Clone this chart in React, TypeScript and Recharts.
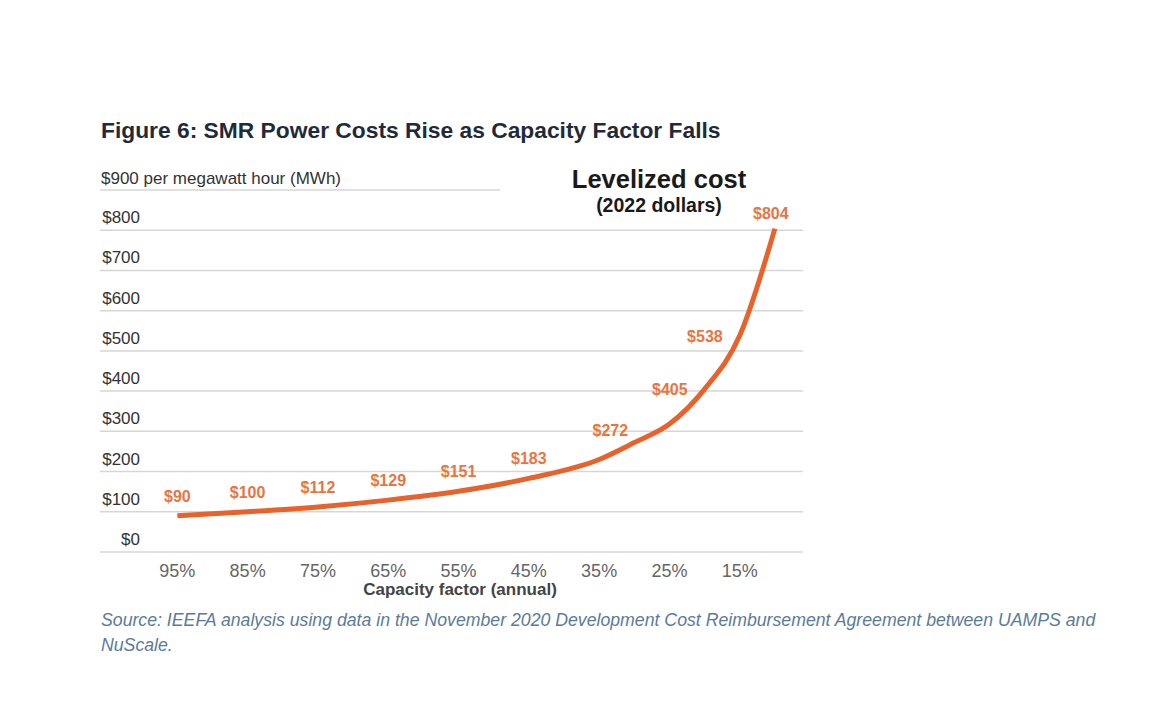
import { CartesianGrid, LabelList, Line, LineChart, XAxis, YAxis } from 'recharts'

// capacity factor (%) -> levelized cost ($/MWh, 2022 dollars)
const capacityFactor = [95, 85, 75, 65, 55, 45, 35, 30, 25, 20, 15, 10]
const levelizedCost = [90, 100, 112, 129, 151, 183, 230, 272, 318, 405, 538, 804]
const showLabel = [true, true, true, true, true, true, false, true, false, true, true, true]

const xTicks = [95, 85, 75, 65, 55, 45, 35, 25, 15]
const yTicks = [0, 100, 200, 300, 400, 500, 600, 700, 800, 900]
const gridValues = [0, 100, 200, 300, 400, 500, 600, 700, 800]

const data = capacityFactor.map((cf, i) => ({ cf, cost: levelizedCost[i], show: showLabel[i] }))

const PLOT_LEFT = 100
const PLOT_RIGHT = 803
const PLOT_TOP = 190
const PLOT_BOTTOM = 552
const W = 1170
const H = 724
const Y_AXIS_W = 40

const LINE_COLOR = '#e8622c'
const LABEL_COLOR = '#ea7440'
const FONT = '"Liberation Sans", Arial, sans-serif'

function YTick(props: any) {
  const { y, payload } = props
  if (payload.value === 900) {
    // top line only runs under the unit caption
    return (
      <g>
        <line x1={PLOT_LEFT} x2={500} y1={y} y2={y} stroke="#d6d6d6" strokeWidth={1.5} />
        <text x={PLOT_LEFT + 1} y={y - 6} fontSize={17} fill="#333" fontFamily={FONT}>
          $900 per megawatt hour (MWh)
        </text>
      </g>
    )
  }
  return (
    <text x={PLOT_LEFT + 40} y={y - 7} textAnchor="end" fontSize={17} fill="#333" fontFamily={FONT}>
      ${payload.value}
    </text>
  )
}

function XTick(props: any) {
  const { x, payload } = props
  return (
    <text x={x} y={PLOT_BOTTOM + 25} textAnchor="middle" fontSize={18} fill="#666" fontFamily={FONT}>
      {payload.value}%
    </text>
  )
}

function PointLabel(props: any) {
  const { x, y, value, index } = props
  if (!data[index].show) return null
  let lx = x
  let ly = y - 14
  let anchor: 'middle' | 'end' = 'middle'
  if (value >= 800) {
    lx = x - 4
    ly = y - 10
  } else if (value >= 300) {
    lx = x - 17
    ly = y + 6
    anchor = 'end'
  } else if (value >= 250) {
    lx = x - 24
    ly = y - 7
  }
  return (
    <text x={lx} y={ly} textAnchor={anchor} fontSize={16} fontWeight="bold" fill={LABEL_COLOR} fontFamily={FONT}>
      ${value}
    </text>
  )
}

export default function App() {
  return (
    <div style={{ position: 'relative', width: W, height: H, background: '#fff', fontFamily: FONT, overflow: 'hidden' }}>
      <style>{'body{margin:0}'}</style>

      <div style={{ position: 'absolute', left: 101, top: 117, fontSize: 22.8, fontWeight: 'bold', color: '#1f2b38' }}>
        Figure 6: SMR Power Costs Rise as Capacity Factor Falls
      </div>

      <LineChart
        width={W}
        height={H}
        data={data}
        margin={{ left: PLOT_LEFT - Y_AXIS_W, right: W - PLOT_RIGHT, top: PLOT_TOP, bottom: H - PLOT_BOTTOM - 30 }}
        style={{ position: 'absolute', left: 0, top: 0 }}
      >
        <CartesianGrid vertical={false} horizontalValues={gridValues} stroke="#d6d6d6" strokeWidth={1.5} />
        <XAxis
          dataKey="cf"
          type="number"
          domain={[6, 106]}
          reversed
          ticks={xTicks}
          axisLine={false}
          tickLine={false}
          height={30}
          tick={<XTick />}
          interval={0}
        />
        <YAxis
          type="number"
          domain={[0, 900]}
          ticks={yTicks}
          width={Y_AXIS_W}
          axisLine={false}
          tickLine={false}
          tick={<YTick />}
          interval={0}
        />
        <Line
          type="monotone"
          dataKey="cost"
          stroke={LINE_COLOR}
          strokeWidth={5}
          dot={false}
          isAnimationActive={false}
        >
          <LabelList dataKey="cost" content={<PointLabel />} />
        </Line>
      </LineChart>

      <div style={{ position: 'absolute', left: 559, top: 164, width: 200, textAlign: 'center', fontWeight: 'bold', color: '#1a1a1a' }}>
        <div style={{ fontSize: 25.5, lineHeight: '30px' }}>Levelized cost</div>
        <div style={{ fontSize: 19.5, lineHeight: '22px' }}>(2022 dollars)</div>
      </div>

      <div style={{ position: 'absolute', left: 300, top: 580, width: 320, textAlign: 'center', fontSize: 17, fontWeight: 'bold', color: '#444' }}>
        Capacity factor (annual)
      </div>

      <div style={{ position: 'absolute', left: 101, top: 608, width: 1040, fontSize: 17.7, fontStyle: 'italic', color: '#5b7b9c', lineHeight: '25px' }}>
        Source: IEEFA analysis using data in the November 2020 Development Cost Reimbursement Agreement between UAMPS and
        <br />
        NuScale.
      </div>
    </div>
  )
}
